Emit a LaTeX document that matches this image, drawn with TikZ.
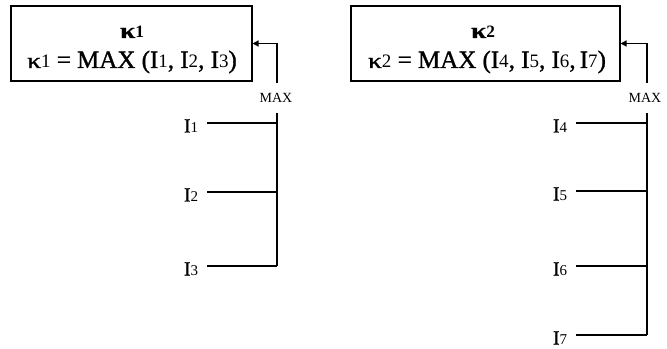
\documentclass[tikz,border=0pt]{standalone}
\usepackage{fontspec}
\usepackage{graphicx}
\setmainfont{Liberation Serif}
\newfontfamily\hv{Liberation Serif}[FakeBold=1.2]
\usetikzlibrary{arrows.meta}
\newcommand\fsz[1]{\fontsize{#1}{#1}\selectfont}
\newcommand\kb{{\fsz{16.5pt}\bfseries\hv\scalebox{1.25}[1]{κ}}}
\newcommand\kn{{\fsz{16.5pt}\hv\scalebox{1.25}[1]{κ}}}
\newcommand\dg[1]{{\fsz{14.25pt}\rmfamily #1}}
\newcommand\Ieq[1]{I\dg{#1}}
\newcommand\Il[1]{I{\fsz{11.25pt}\rmfamily #1}}
\begin{document}
\begin{tikzpicture}[x=0.75pt,y=-0.75pt,
  boxnode/.style={draw,line width=0.8pt,inner sep=0pt},
  titletext/.style={anchor=base,inner sep=0pt},
  eqtext/.style={anchor=base,inner sep=0pt,font=\fsz{18.75pt}\hv},
  ilabel/.style={anchor=east,inner xsep=6.5pt,inner ysep=0pt,text height=14.25pt,text depth=0pt,font=\fsz{15pt}\hv},
  maxlabel/.style={inner sep=0pt,minimum height=22.5pt,font=\fsz{10.5pt}},
  bus/.style={line width=1pt},
  feed/.style={line width=1pt,-{Triangle[length=4.5pt,width=4.5pt]}}]
\useasboundingbox (0,0) rectangle (667,349);
% left box
\node[boxnode,minimum width=180.75pt,minimum height=56.25pt] (box1) at (131.5,43.5) {};
\node[titletext] (t1) at (132,38) {\kb{\fsz{13pt}\bfseries 1}};
\node[eqtext] (e1) at (132,68) {\kn\dg{1} = MAX (\Ieq{1}, \Ieq{2}, \Ieq{3})};
\node[maxlabel] (m1) at (276,98) {MAX};
\coordinate (b1) at (277,266);
\node[ilabel] (i1) at (207,123) {\Il{1}};
\node[ilabel] (i2) at (207,192) {\Il{2}};
\node[ilabel] (i3) at (207,266) {\Il{3}};
\draw[feed] (m1.north -| b1) |- (box1.east);
\draw[bus] (m1.south -| b1) -- (b1);
\draw[bus] (i1.east) -- (i1.east -| b1);
\draw[bus] (i2.east) -- (i2.east -| b1);
\draw[bus] (i3.east) -- (b1);
% right box
\node[boxnode,minimum width=201.75pt,minimum height=56.25pt] (box2) at (485.5,43.5) {};
\node[titletext] (t2) at (483,38) {\kb{\fsz{13pt}\bfseries 2}};
\node[eqtext] (e2) at (487,68) {\kn\dg{2} = MAX (\Ieq{4}, \Ieq{5}, \Ieq{6},\,\Ieq{7})};
\node[maxlabel] (m2) at (645,98) {MAX};
\coordinate (b2) at (647,335);
\node[ilabel] (i4) at (576,123) {\Il{4}};
\node[ilabel] (i5) at (576,191) {\Il{5}};
\node[ilabel] (i6) at (576,266) {\Il{6}};
\node[ilabel] (i7) at (576,335) {\Il{7}};
\draw[feed] (m2.north -| b2) |- (box2.east);
\draw[bus] (m2.south -| b2) -- (b2);
\draw[bus] (i4.east) -- (i4.east -| b2);
\draw[bus] (i5.east) -- (i5.east -| b2);
\draw[bus] (i6.east) -- (i6.east -| b2);
\draw[bus] (i7.east) -- (b2);
\end{tikzpicture}
\end{document}
